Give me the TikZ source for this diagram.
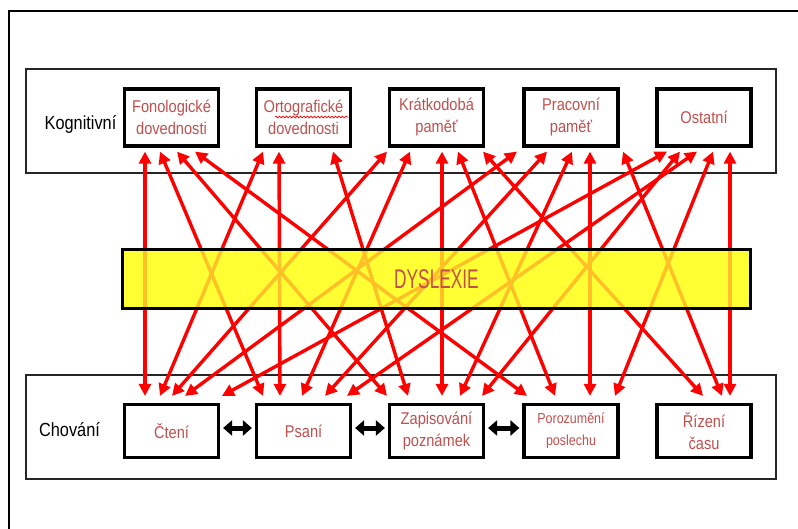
\documentclass[tikz,border=0pt]{standalone}
\usepackage{fontspec}
\setmainfont[FakeStretch=0.86]{Liberation Sans}
\newfontfamily\dysfont[FakeStretch=0.64]{Liberation Sans}
\usetikzlibrary{arrows.meta,decorations.pathmorphing}
\definecolor{txtred}{RGB}{192,80,77}
\definecolor{bandyel}{RGB}{255,255,51}
\pgfdeclarelayer{bg}
\pgfdeclarelayer{arr}
\pgfsetlayers{bg,arr,main}
\tikzset{
 cogbox/.style={draw=black, line width=3.2pt, fill=white, minimum width=94pt, minimum height=57pt,
   align=center, text=txtred, font=\fontsize{17}{22}\selectfont, inner sep=0pt},
 behbox/.style={cogbox, minimum height=53pt},
 panel/.style={draw=black!85, line width=1.6pt},
 redarr/.style={draw=red, line width=3.4pt, {Triangle[length=12pt,width=12pt]}-{Triangle[length=12pt,width=12pt]}},
 dblarr/.style={draw=black, line width=5pt, {Triangle[length=9pt,width=15pt]}-{Triangle[length=9pt,width=15pt]}},
 lbl/.style={font=\fontsize{19}{22}\selectfont, anchor=base, inner sep=0pt},
 bandbox/.style={draw=black, line width=3.2pt, fill=bandyel, fill opacity=0.75, text opacity=1,
   minimum width=628pt, minimum height=59pt, inner sep=0pt, text=txtred,
   font=\dysfont\fontsize{27}{27}\selectfont}
}
\newcommand\rlink[4]{\draw[redarr] ([xshift=#2pt,yshift=-4pt]#1.south) -- ([xshift=#4pt,yshift=7pt]#3.north);}
\begin{document}
\begin{tikzpicture}[x=1pt,y=-1pt]
\useasboundingbox (0,0) rectangle (798,529);
% frame and panels
\begin{pgfonlayer}{bg}
\draw[line width=2.2pt] (9,529) -- (9,11) -- (798,11);
\draw[panel] (26,69) rectangle (776,173);
\draw[panel] (26,375) rectangle (776,479);
\end{pgfonlayer}
% labels
\node[lbl] (kl) at (80.5,129.5) {Kognitivní};
\node[lbl] (cl) at (69.5,436) {Chování};
% cognitive boxes
\node[cogbox] (f) at (171.5,117.5) {Fonologické\\dovednosti};
\node[cogbox] (o) at (303.5,117.5) {Ortografické\\dovednosti};
\node[cogbox] (k) at (436.5,117.5) {Krátkodobá\\paměť};
\node[cogbox] (p) at (571,117.5) {Pracovní\\paměť};
\node[cogbox] (os) at (704,117.5) {Ostatní};
\draw[red, line width=0.7pt, decorate, decoration={snake, amplitude=0.9pt, segment length=3.5pt}]
  ([xshift=-28.5pt,yshift=0.5pt]o.center) -- ([xshift=44.5pt,yshift=0.5pt]o.center);
% behaviour boxes
\node[behbox] (c) at (171.5,431) {Čtení};
\node[behbox] (ps) at (303.5,431) {Psaní};
\node[behbox] (z) at (436.5,431) {Zapisování\\poznámek};
\node[behbox, font=\fontsize{14.5}{22}\selectfont] (po) at (571,431) {Porozumění\\poslechu};
\node[behbox] (r) at (704,431) {Řízení\\času};
% band
\node[bandbox] (d) at (436.5,279) {DYSLEXIE};
\begin{pgfonlayer}{bg}
\fill[bandyel] (d.south west) rectangle (d.north east);
\end{pgfonlayer}
% red arrows
\begin{pgfonlayer}{arr}
\rlink{f}{-26.5}{c}{-26.5}
\rlink{f}{-11.5}{ps}{-40.5}
\rlink{f}{5.5}{z}{-49.5}
\rlink{f}{23.5}{po}{-44}
\rlink{o}{-40.5}{c}{-11.5}
\rlink{o}{-24.5}{ps}{-23.5}
\rlink{o}{29.5}{z}{-28.5}
\rlink{k}{-49.5}{c}{0.5}
\rlink{k}{-26.5}{ps}{-1.5}
\rlink{k}{5.5}{z}{5.5}
\rlink{k}{21.5}{po}{-16}
\rlink{k}{46.5}{r}{-1}
\rlink{p}{-54}{c}{13.5}
\rlink{p}{-24}{ps}{21.5}
\rlink{p}{1}{z}{23.5}
\rlink{p}{19}{po}{19}
\rlink{p}{52}{r}{18}
\rlink{os}{-37}{c}{50.5}
\rlink{os}{-24}{z}{45.5}
\rlink{os}{-7}{ps}{43.5}
\rlink{os}{9}{po}{44}
\rlink{os}{26}{r}{26}
\end{pgfonlayer}
% black double arrows
\draw[dblarr] ([xshift=3pt,yshift=3pt]c.east) -- ([xshift=-3pt,yshift=3pt]ps.west);
\draw[dblarr] ([xshift=3pt,yshift=3pt]ps.east) -- ([xshift=-3pt,yshift=3pt]z.west);
\draw[dblarr] ([xshift=3pt,yshift=3pt]z.east) -- ([xshift=-3pt,yshift=3pt]po.west);
\end{tikzpicture}
\end{document}
